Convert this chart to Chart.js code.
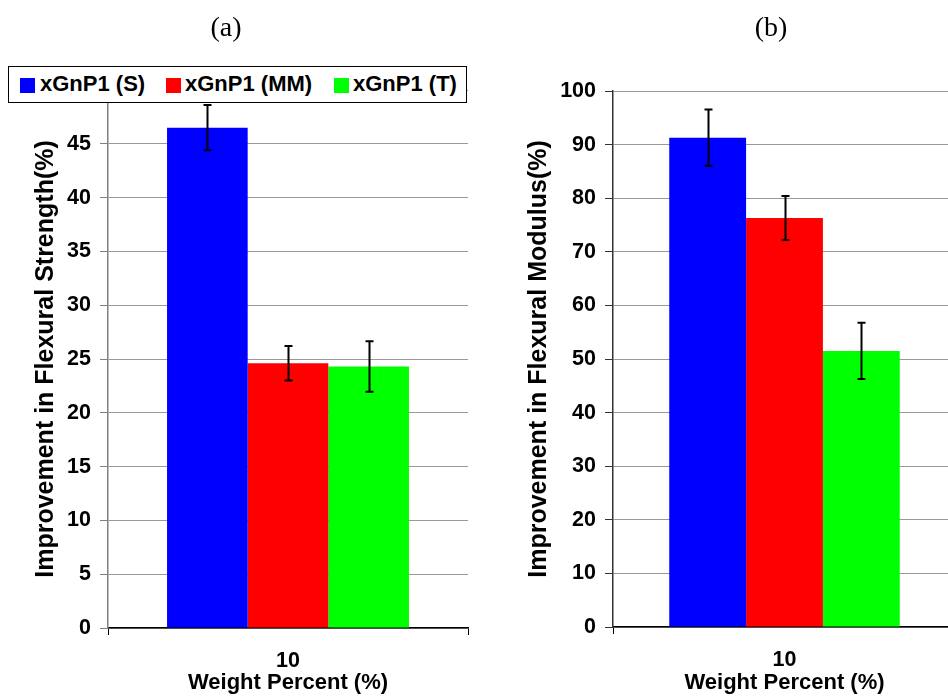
<!DOCTYPE html>
<html>
<head>
<meta charset="utf-8">
<script src="https://cdn.jsdelivr.net/npm/chart.js@4.4.1/dist/chart.umd.min.js"></script>
<style>
  html, body { margin: 0; padding: 0; background: #fff; width: 948px; height: 698px; overflow: hidden; }
  #wrap { position: relative; width: 948px; height: 698px; overflow: hidden; }
  canvas { position: absolute; top: 0; }
  .ptitle { position: absolute; top: 10px; font-family: "Liberation Serif", "Times New Roman", serif; font-size: 28px; line-height: 34px; width: 80px; text-align: center; color: #000; }
  #legend { position: absolute; left: 8px; top: 66px; width: 457px; height: 35px; border: 1px solid #000; background: #fff;
            font-family: "Liberation Sans", Arial, sans-serif; font-weight: bold; font-size: 22px; color: #000; }
  #legend .sw { position: absolute; top: 11px; width: 15px; height: 15px; }
  #legend .lt { position: absolute; top: 4px; line-height: 26px; white-space: nowrap; }
</style>
</head>
<body>
<div id="wrap">
  <canvas id="c1" width="480" height="698" style="left:0;width:480px;height:698px"></canvas>
  <canvas id="c2" width="480" height="698" style="left:480px;width:480px;height:698px"></canvas>
  <div class="ptitle" style="left:186px">(a)</div>
  <div class="ptitle" style="left:731px">(b)</div>
  <div id="legend"></div>
</div>
<script>
// ---- data ----
const categories = ['10'];
const seriesNames = ['xGnP1 (S)', 'xGnP1 (MM)', 'xGnP1 (T)'];
const seriesColors = ['#0000FF', '#FF0000', '#00FF00'];
const strengthValues = [46.5, 24.6, 24.3];
const strengthErrors = [2.1, 1.6, 2.35];
const modulusValues = [91.3, 76.3, 51.5];
const modulusErrors = [5.25, 4.1, 5.25];
const xTitle = 'Weight Percent (%)';
const strengthTitle = 'Improvement in Flexural Strength(%)';
const modulusTitle = 'Improvement in Flexural Modulus(%)';

const FONT = '"Liberation Sans", Arial, sans-serif';

// ---- legend (HTML) ----
const legendPos = [[11, 31], [157, 176], [325, 344]];
const legendEl = document.getElementById('legend');
seriesNames.forEach((n, i) => {
  const sw = document.createElement('div');
  sw.className = 'sw';
  sw.style.left = legendPos[i][0] + 'px';
  sw.style.background = seriesColors[i];
  legendEl.appendChild(sw);
  const t = document.createElement('div');
  t.className = 'lt';
  t.style.left = legendPos[i][1] + 'px';
  t.textContent = n;
  legendEl.appendChild(t);
});

// ---- error bar plugin ----
const errorBars = {
  id: 'errorBars',
  afterDatasetsDraw(chart) {
    const ctx = chart.ctx;
    const y = chart.scales.y;
    ctx.save();
    ctx.strokeStyle = '#000';
    ctx.lineWidth = 2;
    chart.data.datasets.forEach((ds, i) => {
      const meta = chart.getDatasetMeta(i);
      meta.data.forEach((bar, j) => {
        const v = ds.data[j], e = ds.errors[j];
        const x = Math.round(bar.x) + 0.5;
        const yt = y.getPixelForValue(v + e);
        const yb = y.getPixelForValue(v - e);
        ctx.beginPath();
        ctx.moveTo(x, yt); ctx.lineTo(x, yb);
        ctx.moveTo(x - 4, yt); ctx.lineTo(x + 4, yt);
        ctx.moveTo(x - 4, yb); ctx.lineTo(x + 4, yb);
        ctx.stroke();
      });
    });
    ctx.restore();
  }
};

function makeChart(id, values, errors, yMax, yStep, yTitleText, cfg) {
  const datasets = seriesNames.map((n, i) => ({
    label: n,
    data: [values[i]],
    errors: [errors[i]],
    backgroundColor: seriesColors[i],
    borderWidth: 0,
    barPercentage: 1.0,
    categoryPercentage: 0.672
  }));
  return new Chart(document.getElementById(id), {
    type: 'bar',
    data: { labels: categories, datasets },
    plugins: [errorBars],
    options: {
      responsive: false,
      animation: false,
      devicePixelRatio: 1,
      layout: { padding: { top: cfg.top, right: cfg.right, left: 0, bottom: 0 } },
      plugins: { legend: { display: false }, tooltip: { enabled: false } },
      scales: {
        x: {
          grid: { display: true, drawOnChartArea: false, drawTicks: true, tickLength: 7, color: '#000', offset: true },
          border: { display: true, color: '#000', width: 1.5 },
          ticks: { color: '#000', font: { family: FONT, size: 21.5, weight: 'bold' }, padding: 13 },
          title: { display: true, text: xTitle, color: '#000', font: { family: FONT, size: 22, weight: 'bold' }, padding: { top: 0, bottom: 2 } },
          afterFit(s) { s.height = cfg.xh; }
        },
        y: {
          min: 0, max: yMax,
          ticks: { stepSize: yStep, color: '#000', font: { family: FONT, size: 21.5, weight: 'bold' }, padding: 9 },
          grid: { color: '#999', borderDash: [1, 1], tickLength: 8, tickColor: cfg.axisColor, tickBorderDash: [], lineWidth: 1 },
          border: { display: true, color: cfg.axisColor, width: 1.5 },
          title: { display: true, text: yTitleText, color: '#000', font: { family: FONT, size: 25, weight: 'bold' }, padding: { top: cfg.titlePad, bottom: 0 } },
          afterFit(s) { s.width = cfg.yw; }
        }
      }
    }
  });
}

makeChart('c1', strengthValues, strengthErrors, 50, 5, strengthTitle,
  { top: 90, right: 12, xh: 70, yw: 108, axisColor: '#808080', titlePad: 31 });
makeChart('c2', modulusValues, modulusErrors, 100, 10, modulusTitle,
  { top: 91, right: 4, xh: 71, yw: 133, axisColor: '#333', titlePad: 44 });
</script>
</body>
</html>
